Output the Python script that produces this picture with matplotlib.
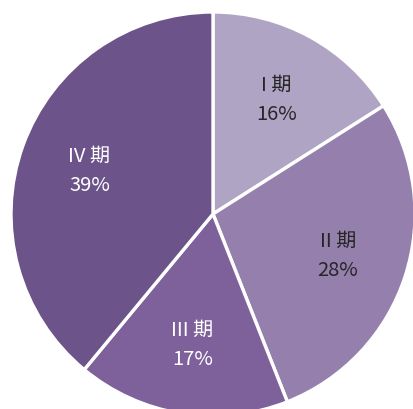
import matplotlib
matplotlib.use('Agg')
import matplotlib.pyplot as plt

plt.rcParams['font.family'] = ['Noto Sans CJK SC', 'DejaVu Sans']

stages = ['I 期', 'II 期', 'III 期', 'IV 期']
shares = [16, 28, 17, 39]
colors = ['#b0a4c4', '#9580ad', '#7e619b', '#6c5389']
text_colors = ['#262626', '#262626', '#ffffff', '#ffffff']

fig = plt.figure(figsize=(4.14, 4.10), dpi=100)
ax = fig.add_axes([0, 0, 1, 1])

labels_iter = iter(stages)


def fmt(pct):
    return '%s\n%d%%' % (next(labels_iter), round(pct))


wedges, texts, autotexts = ax.pie(
    shares, colors=colors, startangle=90, counterclock=False,
    center=(213, 195), radius=202, frame=True,
    autopct=fmt, pctdistance=0.65,
    wedgeprops=dict(edgecolor='white', linewidth=2.4),
    textprops=dict(fontsize=14.5, linespacing=1.5))
ax.set_xlim(0, 414)
ax.set_ylim(0, 410)
ax.set_aspect('equal')
ax.axis('off')
for t, c in zip(autotexts, text_colors):
    t.set_color(c)

fig.savefig('out.png', dpi=100)
